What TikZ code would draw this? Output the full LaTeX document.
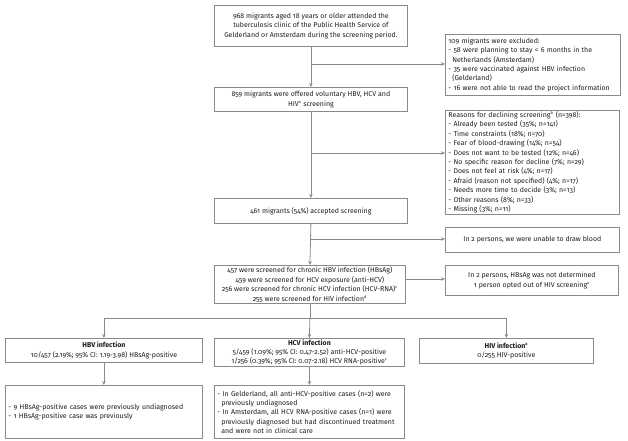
\documentclass[tikz,border=0pt]{standalone}
\usepackage{fontspec}
\setmainfont{Fira Sans}[Numbers=OldStyle]
\usetikzlibrary{arrows.meta}
\definecolor{boxgray}{HTML}{8A8A8A}
\definecolor{txt}{HTML}{1E1E1E}
\tikzset{
  box/.style={draw=boxgray, line width=0.8pt, inner ysep=1pt, text=txt,
    font=\fontsize{7}{9.4}\selectfont, anchor=north west},
  conn/.style={draw=boxgray, line width=0.8pt},
  arr/.style={conn, -{Stealth[length=4pt,width=3.5pt]}},
}
% centred box: name, x1, y1, x2, y2, text
\newcommand{\cbox}[6]{%
  \pgfmathsetmacro{\bw}{#4-#2}\pgfmathsetmacro{\bh}{#5-#3}%
  \node[box, inner xsep=-5pt, minimum width=\bw pt, minimum height=\bh pt,
        align=center] (#1) at (#2,#3) {#6};}
% left-aligned box
\newcommand{\lbox}[6]{%
  \pgfmathsetmacro{\bw}{#4-#2}\pgfmathsetmacro{\bh}{#5-#3}\pgfmathsetmacro{\tw}{#4-#2-6}%
  \node[box, inner xsep=3pt, minimum width=\bw pt, minimum height=\bh pt,
        text width=\tw pt, align=left] (#1) at (#2,#3) {#6};}
\newcommand{\sps}[1]{\textsuperscript{\fontsize{4}{4}\selectfont #1}}
\newcommand{\ind}{\hspace*{0.55em}}
\begin{document}
\begin{tikzpicture}[x=1pt,y=-1pt]
\useasboundingbox (0,0) rectangle (628,440);
\cbox{b1}{214}{5}{407}{46}{968 migrants aged 18 years or older attended the\\ tuberculosis clinic of the Public Health Service of\\ Gelderland or Amsterdam during the screening period.}
\lbox{excl}{445}{34}{620}{95}{109 migrants were excluded:\\
- 58 were planning to stay \textless\ 6 months in the\\ \ind Netherlands (Amsterdam)\\
- 35 were vaccinated against HBV infection\\ \ind (Gelderland)\\
- 16 were not able to read the project information}
\cbox{b2}{214}{87}{407}{111}{859 migrants were offered voluntary HBV, HCV and\\ HIV\sps{a} screening}
\lbox{reas}{445}{110}{619}{213}{Reasons for declining screening\sps{b} (n=398):\\
- Already been tested (35\%; n=141)\\
- Time constraints (18\%; n=70)\\
- Fear of blood-drawing (14\%; n=54)\\
- Does not want to be tested (12\%; n=46)\\
- No specific reason for decline (7\%; n=29)\\
- Does not feel at risk (4\%; n=17)\\
- Afraid (reason not specified) (4\%; n=17)\\
- Needs more time to decide (3\%; n=13)\\
- Other reasons (8\%; n=33)\\
- Missing (3\%; n=11)}
\cbox{b3}{214}{198}{407}{223}{461 migrants (54\%) accepted screening}
\cbox{unab}{445}{227}{619}{252}{In 2 persons, we were unable to draw blood}
\cbox{b4}{214}{265}{405}{303}{457 were screened for chronic HBV infection (HBsAg)\\
459 were screened for HCV exposure (anti-HCV)\\
256 were screened for chronic HCV infection (HCV-RNA)\sps{c}\\
255 were screened for HIV infection\sps{d}}
\cbox{nd}{445}{265}{618}{295}{In 2 persons, HBsAg was not determined\\
1 person opted out of HIV screening\sps{a}}
\cbox{hbv}{5}{338}{202}{362}{{\bfseries HBV infection}\\
10/457 (2.19\%; 95\% CI: 1.19-3.98) HBsAg-positive}
\cbox{hcv}{214}{338}{404}{363}{{\bfseries HCV infection}\\
5/459 (1.09\%; 95\% CI: 0.47-2.52) anti-HCV-positive\\
1/256 (0.39\%; 95\% CI: 0.07-2.18) HCV RNA-positive\sps{c}}
\cbox{hiv}{419}{338}{593}{363}{{\bfseries HIV infection\sps{a}}\\
0/255 HIV-positive}
\lbox{hbvl}{5}{385}{202}{438}{- 9 HBsAg-positive cases were previously undiagnosed\\
- 1 HBsAg-positive case was previously}
\lbox{hcvl}{214}{385}{404}{438}{- In Gelderland, all anti-HCV-positive cases (n=2) were\\ \ind previously undiagnosed\\
- In Amsterdam, all HCV RNA-positive cases (n=1) were\\ \ind previously diagnosed but had discontinued treatment\\ \ind and were not in clinical care}
% connectors
\draw[arr] (b1.south) -- (b2.north);
\draw[arr] (b1.south |- 0,64) -- (excl.west |- 0,64);
\draw[arr] (b2.south) -- (b3.north);
\draw[arr] (b2.south |- 0,153) -- (reas.west |- 0,153);
\draw[arr] (b3.south) -- (b4.north);
\draw[arr] (b3.south |- 0,239) -- (unab.west |- 0,239);
\draw[arr] (b4.east |- 0,279) -- (nd.west |- 0,279);
\coordinate (br) at (b4.south |- 0,318);
\draw[conn] (b4.south) -- (br);
\draw[arr] (br) -| (hbv.north);
\draw[arr] (br) -- (hcv.north);
\draw[arr] (br) -| (hiv.north);
\draw[arr] (hbv.south) -- (hbvl.north);
\draw[arr] (hcv.south) -- (hcvl.north);
\end{tikzpicture}
\end{document}
